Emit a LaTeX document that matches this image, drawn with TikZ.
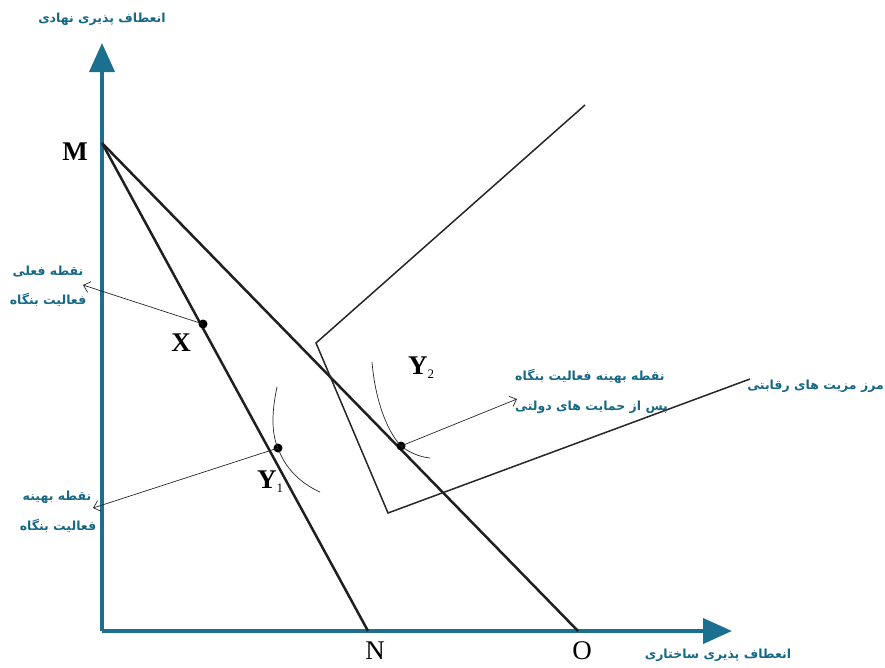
\documentclass[tikz,border=0pt]{standalone}
\usepackage{fontspec}
\setmainfont{Liberation Serif}
\newfontfamily\fa[Script=Arabic]{DejaVu Sans}
\TeXXeTstate=1
\usetikzlibrary{arrows.meta}
\definecolor{axisblue}{RGB}{27,112,143}
\definecolor{labteal}{RGB}{22,104,134}
\tikzset{
  axis/.style={line width=4pt, draw=axisblue, -{Triangle[length=29pt,width=25pt]}},
  mainline/.style={line width=2.5pt, black!88},
  frontier/.style={line width=1.5pt, black!85},
  curvel/.style={line width=0.7pt, black!85},
  pointer/.style={line width=0.7pt, black!85, -{Straight Barb[length=6pt,width=11pt]}},
  dot/.style={circle, fill=black, inner sep=0pt, minimum size=9pt},
  falab/.style={text=labteal, font=\fa\bfseries\fontsize{12.5}{15}\selectfont, inner sep=0pt},
  ltr/.style={font=\fontsize{27}{30}\selectfont, inner sep=0pt},
  ltrb/.style={font=\bfseries\fontsize{27}{30}\selectfont, inner sep=0pt},
}
\begin{document}
\begin{tikzpicture}[x=1pt,y=-1pt]
\useasboundingbox (0,0) rectangle (885,667);
% named points
\coordinate (orig) at (102,631);
\coordinate (ytip) at (102,43);
\coordinate (xtip) at (732,631);
\coordinate (M) at (102,143);
\coordinate (N) at (368,631);
\coordinate (O) at (578,631);
\coordinate (F1) at (585,105);
\coordinate (F2) at (316,343);
\coordinate (F3) at (388,513);
\coordinate (F4) at (750,379);
% axes
\draw[axis] (orig) -- (ytip);
\draw[axis] (orig) -- (xtip);
% main lines
\draw[mainline] (M) -- (N);
\draw[mainline] (M) -- (O);
% frontier
\draw[frontier] (F1) -- (F2) -- (F3) -- (F4);
% points
\node[dot] (X) at (203,324) {};
\node[dot] (Y1) at (278,448) {};
\node[dot] (Y2) at (401,446) {};
% curves
\draw[curvel] (277,387) .. controls (271,415) and (272,435) .. (Y1.center) .. controls (285,468) and (300,483) .. (320,492);
\draw[curvel] (372,362) .. controls (375,398) and (386,430) .. (Y2.center) .. controls (410,453) and (420,457) .. (430,458);
% letter labels
\node[ltrb] (Ml) at (75,152) {M};
\node[ltr] (Nl) at (375,651) {N};
\node[ltr] (Ol) at (582,651) {O};
\node[ltrb] (Xl) at (181,343) {X};
\node[ltrb, anchor=west] (Y1l) at (257,482) {Y\textsubscript{\normalfont\fontsize{13}{13}\selectfont 1}};
\node[ltrb, anchor=west] (Y2l) at (408,368) {Y\textsubscript{\normalfont\fontsize{13}{13}\selectfont 2}};
% persian labels
\node[falab] (tyl) at (102,19) {\beginR انعطاف پذیری  نهادی\endR};
\node[falab] (txl) at (718,655) {\beginR انعطاف پذیری ساختاری\endR};
\node[falab, anchor=east] (fr) at (884,386) {\beginR مرز مزیت های رقابتی\endR};
\node[falab] (a1) at (48,272) {\beginR نقطه فعلی\endR};
\node[falab] (a2) at (48,300) {\beginR فعالیت بنگاه\endR};
\node[falab] (b1) at (57,497) {\beginR نقطه بهینه\endR};
\node[falab] (b2) at (58,526) {\beginR فعالیت بنگاه\endR};
\node[falab, anchor=west] (c1) at (515,376) {\beginR نقطه بهینه فعالیت بنگاه\endR};
\node[falab, anchor=west] (c2) at (515,407) {\beginR پس از حمایت های دولتی\endR};
% pointers
\coordinate (pa) at (83,285);
\coordinate (pb) at (93,508);
\coordinate (pc) at (517,399);
\draw[pointer] (X.center) -- (pa);
\draw[pointer] (Y1.center) -- (pb);
\draw[pointer] (Y2.center) -- (pc);
\end{tikzpicture}
\end{document}
